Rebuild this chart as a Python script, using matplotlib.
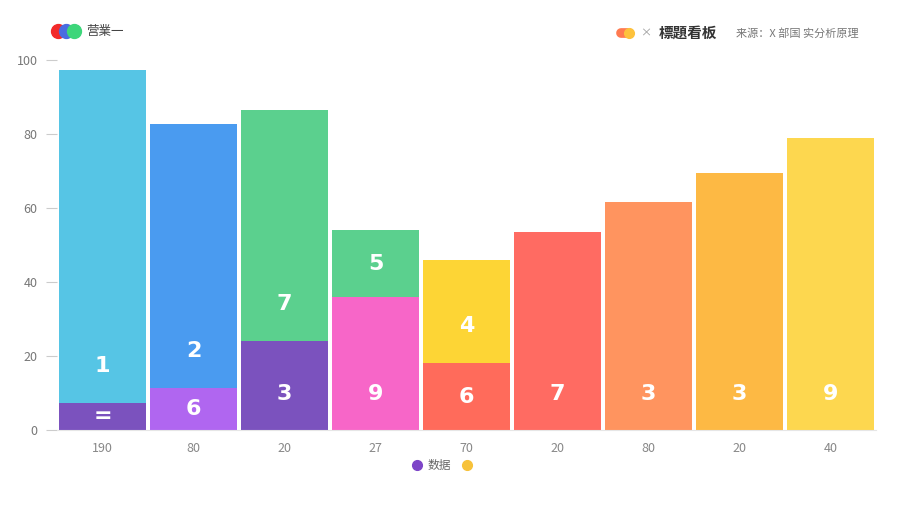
import matplotlib
matplotlib.use("Agg")
import matplotlib.pyplot as plt
from matplotlib.lines import Line2D

plt.rcParams['font.family'] = ['Noto Sans CJK SC', 'DejaVu Sans']

categories = ['190', '80', '20', '27', '70', '20', '80', '20', '40']
base_values = [7.3, 11.4, 24, 36, 18, 53.5, 61.6, 69.5, 79]
top_values = [90, 71.3, 62.5, 18, 28, 0, 0, 0, 0]
base_labels = ['=', '6', '3', '9', '6', '7', '3', '3', '9']
top_labels = ['1', '2', '7', '5', '4', '', '', '', '']
base_colors = ['#7B52BE', '#B066F0', '#7B52BE', '#F766C8', '#FF6B5B',
               '#FF6B62', '#FF945F', '#FDB944', '#FDD74F']
top_colors = ['#56C5E5', '#4A9BF0', '#5BD08E', '#5BD08E', '#FDD535',
              '#FF6B62', '#FF945F', '#FDB944', '#FDD74F']
y_ticks = [0, 20, 40, 60, 80, 100]

fig = plt.figure(figsize=(9, 5.12), dpi=100)
ax = fig.add_axes([57/900, 1-430/512, (876-57)/900, (430-60)/512])

x = list(range(len(categories)))
w = 0.965
ax.bar(x, base_values, width=w, color=base_colors, linewidth=0, zorder=2)
ax.bar(x, top_values, width=w, bottom=base_values, color=top_colors, linewidth=0, zorder=2)

for i in x:
    b = base_values[i]
    t = top_values[i]
    yb = min(b / 2, 9.8)
    ax.text(i, yb, base_labels[i], ha='center', va='center', color='white',
            fontsize=16, fontweight='bold', zorder=3, family='DejaVu Sans')
    if top_labels[i]:
        yt = min(b + 10, b + t / 2)
        ax.text(i, yt, top_labels[i], ha='center', va='center', color='white',
                fontsize=16, fontweight='bold', zorder=3, family='DejaVu Sans')

ax.set_xlim(-0.5, 8.5)
ax.set_ylim(0, 100)
ax.set_yticks(y_ticks)
ax.set_yticklabels([str(v) for v in y_ticks])
ax.set_xticks(x)
ax.set_xticklabels(categories)
for s in ['top', 'right', 'left']:
    ax.spines[s].set_visible(False)
ax.spines['bottom'].set_color('#e6e6e6')
ax.tick_params(axis='y', length=8, width=0.8, color='#cccccc', labelcolor='#777777',
               labelsize=9, pad=6)
ax.tick_params(axis='x', length=0, labelcolor='#888888', labelsize=9, pad=9)

# top-left legend
tf = fig.transFigure
for xx, c in [(58, '#F22A2A'), (66, '#4A6BE0'), (74, '#3DD67A')]:
    fig.add_artist(Line2D([xx/900], [1-31/512], marker='o', markersize=10,
                          color=c, transform=tf, linestyle='none'))
fig.text(86/900, 1-31/512, '营業一', fontsize=9, color='#444444', va='center', ha='left')

# top-right legend/title
fig.add_artist(Line2D([621/900, 629/900], [1-33/512, 1-33/512], color='#FF7A50',
                      linewidth=7, solid_capstyle='round', transform=tf))
fig.add_artist(Line2D([629/900], [1-33/512], marker='o', markersize=7,
                      color='#FDC23C', transform=tf, linestyle='none'))
fig.text(640/900, 1-33/512, '×', fontsize=8, color='#999999', va='center', ha='left')
fig.text(659/900, 1-33/512, '標題看板', fontsize=10.5, color='#333333',
         fontweight='bold', va='center', ha='left')
fig.text(736/900, 1-33/512, '来源：X 部国 实分析原理', fontsize=8, color='#777777',
         va='center', ha='left')

# bottom legend
fig.add_artist(Line2D([417/900], [1-465/512], marker='o', markersize=7,
                      color='#7D45C8', transform=tf, linestyle='none'))
fig.text(428/900, 1-465/512, '数据', fontsize=8.5, color='#666666', va='center', ha='left')
fig.add_artist(Line2D([467/900], [1-465/512], marker='o', markersize=7,
                      color='#F7C23A', transform=tf, linestyle='none'))

fig.savefig('out.png', dpi=100, facecolor='white')
